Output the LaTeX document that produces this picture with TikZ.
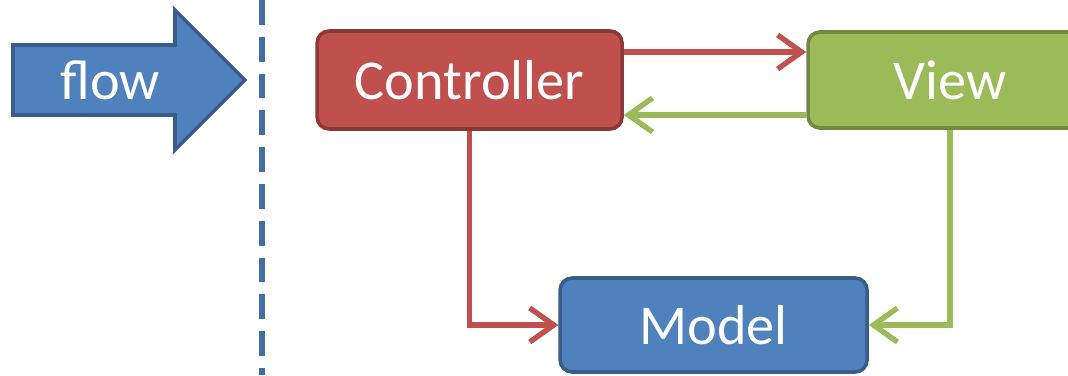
\documentclass[tikz,border=0pt]{standalone}
\usepackage{fontspec}
\setmainfont{Carlito}
\usetikzlibrary{arrows.meta,positioning}
\definecolor{mvcblue}{HTML}{4F81BD}
\definecolor{mvcbluedark}{HTML}{385D8A}
\definecolor{mvcred}{HTML}{C0504D}
\definecolor{mvcreddark}{HTML}{8C3836}
\definecolor{mvcgreen}{HTML}{9BBB59}
\definecolor{mvcgreendark}{HTML}{71893F}
\tikzset{
	mvcbox/.style={rounded corners=0.3cm, line width=2.5pt, text=white, inner sep=0pt,
		font=\fontsize{40}{48}\selectfont},
	redline/.style={mvcred, line width=3.8pt, -{Straight Barb[length=0.6cm,width=0.85cm]}},
	greenline/.style={mvcgreen, line width=3.8pt, -{Straight Barb[length=0.6cm,width=0.85cm]}}
}
\begin{document}
\begin{tikzpicture}
		\useasboundingbox (0,0) rectangle (26.7,9.375);
		\begin{scope}
		\clip (0,0) rectangle (26.7,9.375);
		\draw[fill=mvcblue, draw=mvcbluedark, line width=2.5pt, line join=miter]
			(0.325,6.5) -- (0.325,8.25) -- (4.375,8.25) -- (4.375,9.125) -- (6.125,7.375)
			-- (4.375,5.625) -- (4.375,6.5) -- cycle;
		\node[text=white, font=\fontsize{40}{48}\selectfont] (flow) at (2.75,7.375) {flow};
		\draw[mvcblue!85!black, line width=4.5pt, dash pattern=on 0.62cm off 0.3cm] (6.55,9.375) -- (6.55,0);
		\node[mvcbox, fill=mvcred, draw=mvcreddark, minimum width=7.625cm, minimum height=2.45cm]
			(ctrl) at (11.74,7.375) {Controller};
		\node[mvcbox, fill=mvcgreen, draw=mvcgreendark, minimum width=7.1cm, minimum height=2.4cm]
			(view) at (23.75,7.375) {View};
		\node[mvcbox, fill=mvcblue, draw=mvcbluedark, minimum width=7.675cm, minimum height=2.35cm]
			(model) at (17.84,1.25) {Model};
		\draw[redline] ([yshift=0.7cm]ctrl.east) -- ([yshift=0.7cm]ctrl.east -| view.west);
		\draw[greenline] ([yshift=-0.875cm]view.west) -- ([yshift=-0.875cm]view.west -| ctrl.east);
		\draw[redline] (ctrl.south) -- (ctrl.south |- model.west) -- (model.west);
		\draw[greenline] (view.south) -- (view.south |- model.east) -- (model.east);
		\end{scope}
\end{tikzpicture}
\end{document}
